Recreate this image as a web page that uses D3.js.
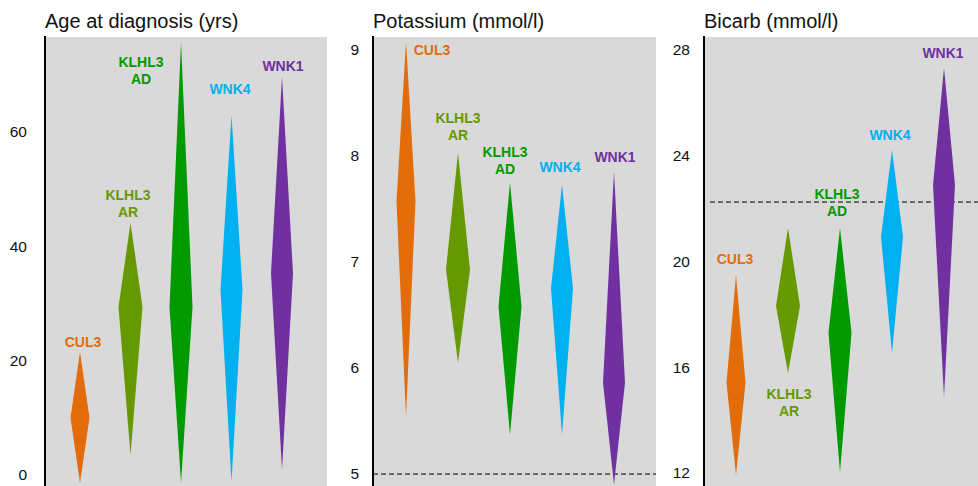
<!DOCTYPE html>
<html>
<head>
<meta charset="utf-8">
<script src="https://cdn.jsdelivr.net/npm/d3@7"></script>
<style>
  html, body { margin: 0; padding: 0; background: #fff; }
  svg { display: block; }
</style>
</head>
<body>
<svg id="chart" width="978" height="486"></svg>
<script>
// ---------------- DATA ----------------
const genes = ["CUL3", "KLHL3 AR", "KLHL3 AD", "WNK4", "WNK1"];
const geneLabels = [["CUL3"], ["KLHL3", "AR"], ["KLHL3", "AD"], ["WNK4"], ["WNK1"]];

// Age at diagnosis (yrs): top, widest point, bottom of each diamond
const ageTop    = [21.5, 44.1, 75.7, 63.0, 69.6];
const ageMid    = [10.0, 29.4, 29.4, 32.4, 35.3];
const ageBottom = [-1.4, 3.5, -1.4, -1.2, 0.9];
const ageTicks  = [0, 20, 40, 60];

// Potassium (mmol/l)
const kTop    = [9.08, 8.03, 7.75, 7.73, 7.85];
const kMid    = [7.57, 6.93, 6.58, 6.75, 5.86];
const kBottom = [5.54, 6.05, 5.37, 5.37, 4.90];
const kTicks  = [5, 6, 7, 8, 9];
const kRef    = 5;

// Bicarb (mmol/l)
const bTop    = [19.49, 21.27, 21.27, 24.22, 27.32];
const bMid    = [15.40, 18.32, 17.30, 20.93, 22.89];
const bBottom = [11.92, 15.78, 12.04, 16.54, 14.87];
const bTicks  = [12, 16, 20, 24, 28];
const bRef    = 22.25;

const titles = ["Age at diagnosis (yrs)", "Potassium (mmol/l)", "Bicarb (mmol/l)"];

// ---------------- STYLE / LAYOUT ----------------
const colors = ["#E36C0A", "#669900", "#009900", "#00B0F0", "#7030A0"];
const halfWidths = [9.5, 12, 11.5, 11, 11];
const panelBg = "#D9D9D9";

const panels = [
  { title: titles[0], top: ageTop, mid: ageMid, bottom: ageBottom, ticks: ageTicks,
    domain: [0, 60], range: [475, 132], x0: 45, x1: 327, xr: [80, 282], tickGap: 18, ref: null,
    labels: [ {dx: 3, dy: -10}, {dx: -2.5, dy: -11}, {dx: -40, dy: 37}, {dx: -1.5, dy: -26}, {dx: 1, dy: -11} ] },
  { title: titles[1], top: kTop, mid: kMid, bottom: kBottom, ticks: kTicks,
    domain: [5, 9], range: [474, 50], x0: 373, x1: 656, xr: [406, 614], tickGap: 14, ref: kRef, refX0: 373,
    labels: [ {dx: 26, dy: 8}, {dx: 0, dy: -18}, {dx: -5, dy: -14}, {dx: -2, dy: -18}, {dx: 1, dy: -15} ] },
  { title: titles[2], top: bTop, mid: bMid, bottom: bBottom, ticks: bTicks,
    domain: [12, 28], range: [473, 50], x0: 704, x1: 978, xr: [736, 944], tickGap: 14, ref: bRef, refX0: 710,
    labels: [ {dx: -1, dy: -16}, {dx: 1, dy: 21, below: true}, {dx: -3, dy: -17}, {dx: -2, dy: -15}, {dx: -1, dy: -15} ] }
];

const svg = d3.select("#chart");
const fontFamily = "Arial, 'Liberation Sans', sans-serif";
const lineH = 17;

panels.forEach(p => {
  const g = svg.append("g");
  const y = d3.scaleLinear().domain(p.domain).range(p.range);
  const x = d3.scalePoint().domain(genes).range(p.xr);

  // background
  g.append("rect")
    .attr("x", p.x0).attr("y", 37)
    .attr("width", p.x1 - p.x0).attr("height", 486 - 37)
    .attr("fill", panelBg);

  // title
  g.append("text")
    .attr("x", p.x0).attr("y", 28)
    .attr("font-family", fontFamily).attr("font-size", 20)
    .attr("fill", "#111")
    .text(p.title);

  // y axis via d3 axis (labels only, no ticks/domain)
  const axis = d3.axisLeft(y).tickValues(p.ticks).tickSize(0).tickPadding(p.tickGap).tickFormat(d3.format("d"));
  const ag = g.append("g").attr("transform", `translate(${p.x0},0)`).call(axis);
  ag.select(".domain").remove();
  ag.selectAll("text")
    .attr("font-family", fontFamily).attr("font-size", 15.5).attr("fill", "#111");

  // axis line
  g.append("line")
    .attr("x1", p.x0).attr("x2", p.x0).attr("y1", 36).attr("y2", 486)
    .attr("stroke", "#000").attr("stroke-width", 2);

  // reference dashed line
  if (p.ref !== null) {
    g.append("line")
      .attr("x1", p.refX0).attr("x2", p.x1)
      .attr("y1", y(p.ref)).attr("y2", y(p.ref))
      .attr("stroke", "#000").attr("stroke-width", 1.2)
      .attr("stroke-dasharray", "5,3");
  }

  // diamonds
  genes.forEach((gene, i) => {
    const cx = x(gene);
    const hw = halfWidths[i];
    const pts = [
      [cx, y(p.top[i])],
      [cx + hw, y(p.mid[i])],
      [cx, y(p.bottom[i])],
      [cx - hw, y(p.mid[i])]
    ];
    g.append("path")
      .attr("d", d3.line()(pts) + "Z")
      .attr("fill", colors[i]);

    // label
    const L = p.labels[i];
    const lines = geneLabels[i];
    let firstCenter;
    if (L.below) {
      firstCenter = y(p.bottom[i]) + L.dy;
    } else {
      firstCenter = y(p.top[i]) + L.dy - (lines.length - 1) * lineH;
    }
    const t = g.append("text")
      .attr("font-family", fontFamily).attr("font-size", 14)
      .attr("font-weight", "bold").attr("fill", colors[i])
      .attr("text-anchor", "middle");
    lines.forEach((ln, k) => {
      t.append("tspan")
        .attr("x", cx + L.dx)
        .attr("y", firstCenter + k * lineH + 5)
        .text(ln);
    });
  });
});
</script>
</body>
</html>
